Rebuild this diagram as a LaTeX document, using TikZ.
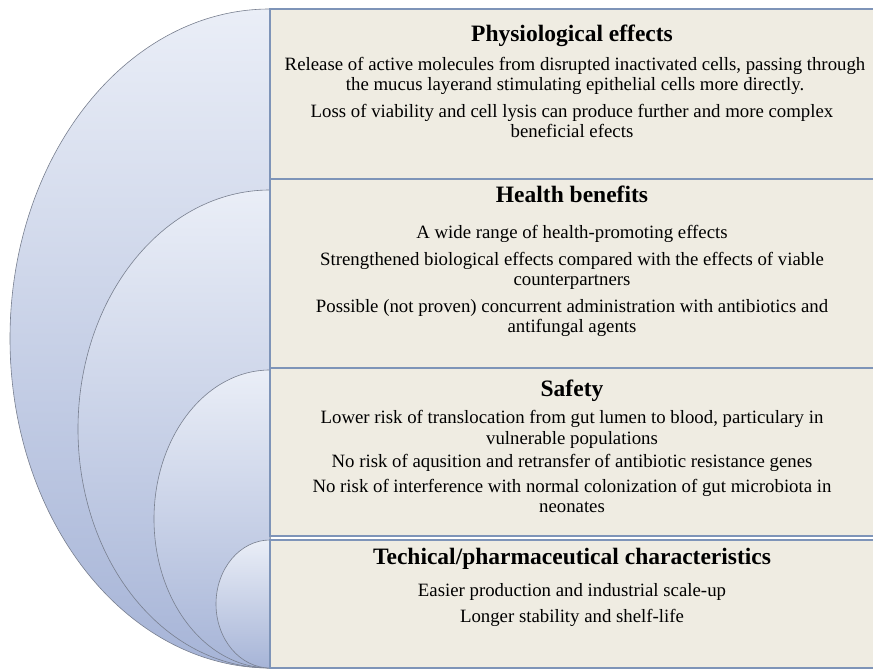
\documentclass[tikz,border=0pt]{standalone}
\usepackage{fontspec}
\setmainfont{Liberation Serif}
\usepackage{xcolor}
\usepackage{tikz}

\definecolor{ringtop}{RGB}{234,238,247}
\definecolor{ringbot}{RGB}{166,180,215}
\definecolor{ringline}{RGB}{120,127,143}
\definecolor{boxfill}{RGB}{239,236,226}
\definecolor{boxline}{RGB}{126,148,184}

\tikzset{
	ring/.style={draw=ringline,line width=0.6pt,top color=ringtop,bottom color=ringbot},
	panel/.style={draw=boxline,line width=1.6pt,fill=boxfill},
	head/.style={font=\fontsize{23.5}{27}\selectfont\bfseries,inner sep=0pt},
	item/.style={font=\fontsize{18.8}{20.5}\selectfont,align=center,inner sep=0pt}
}

\begin{document}
\begin{tikzpicture}[x=1pt,y=1pt]
	\useasboundingbox (0,0) rectangle (873,671);
	
	\draw[ring] (270,662) arc[start angle=90,end angle=270,x radius=260,y radius=329.5] -- cycle;
	\draw[ring] (270,481) arc[start angle=90,end angle=270,x radius=192,y radius=239] -- cycle;
	\draw[ring] (270,301) arc[start angle=90,end angle=270,x radius=116,y radius=149] -- cycle;
	\draw[ring] (270,131) arc[start angle=90,end angle=270,x radius=54,y radius=64] -- cycle;
	
	\draw[panel] (270,662) rectangle (880,492);
	\draw[panel] (270,492) rectangle (880,303);
	\draw[panel] (270,303) rectangle (880,135);
	\draw[panel] (270,131) rectangle (880,3);
	
	\node[head] (physio) at (572,635) {Physiological effects};
	\node[item] (release) at (575,595) {Release of active molecules  from disrupted inactivated  cells, passing through\\the mucus layerand  stimulating  epithelial  cells more directly.};
	\node[item] (lysis) at (572,550) {Loss of viability  and cell lysis can produce further and more complex\\beneficial  efects};
	
	\node[head] (health) at (572,477) {Health benefits};
	\node[item] (range) at (572,437) {A wide range  of health-promoting  effects};
	\node[item] (strength) at (572,400) {Strengthened  biological  effects compared with  the effects of viable\\counterpartners};
	\node[item] (antibio) at (572,353) {Possible (not proven) concurrent administration  with  antibiotics  and\\antifungal  agents};
	
	\node[head] (safety) at (572,280) {Safety};
	\node[item] (transloc) at (572,241.5) {Lower risk  of translocation  from  gut  lumen  to blood, particulary  in\\vulnerable  populations};
	\node[item] (genes) at (572,208) {No risk  of aqusition  and retransfer  of antibiotic  resistance genes};
	\node[item] (neonat) at (572,175) {No risk  of interference  with  normal colonization  of gut microbiota  in\\neonates};
	
	\node[head] (tech) at (572,112) {Techical/pharmaceutical characteristics};
	\node[item] (scale) at (572,79) {Easier production and industrial  scale-up};
	\node[item] (shelf) at (572,53) {Longer  stability  and shelf-life};
\end{tikzpicture}
\end{document}
